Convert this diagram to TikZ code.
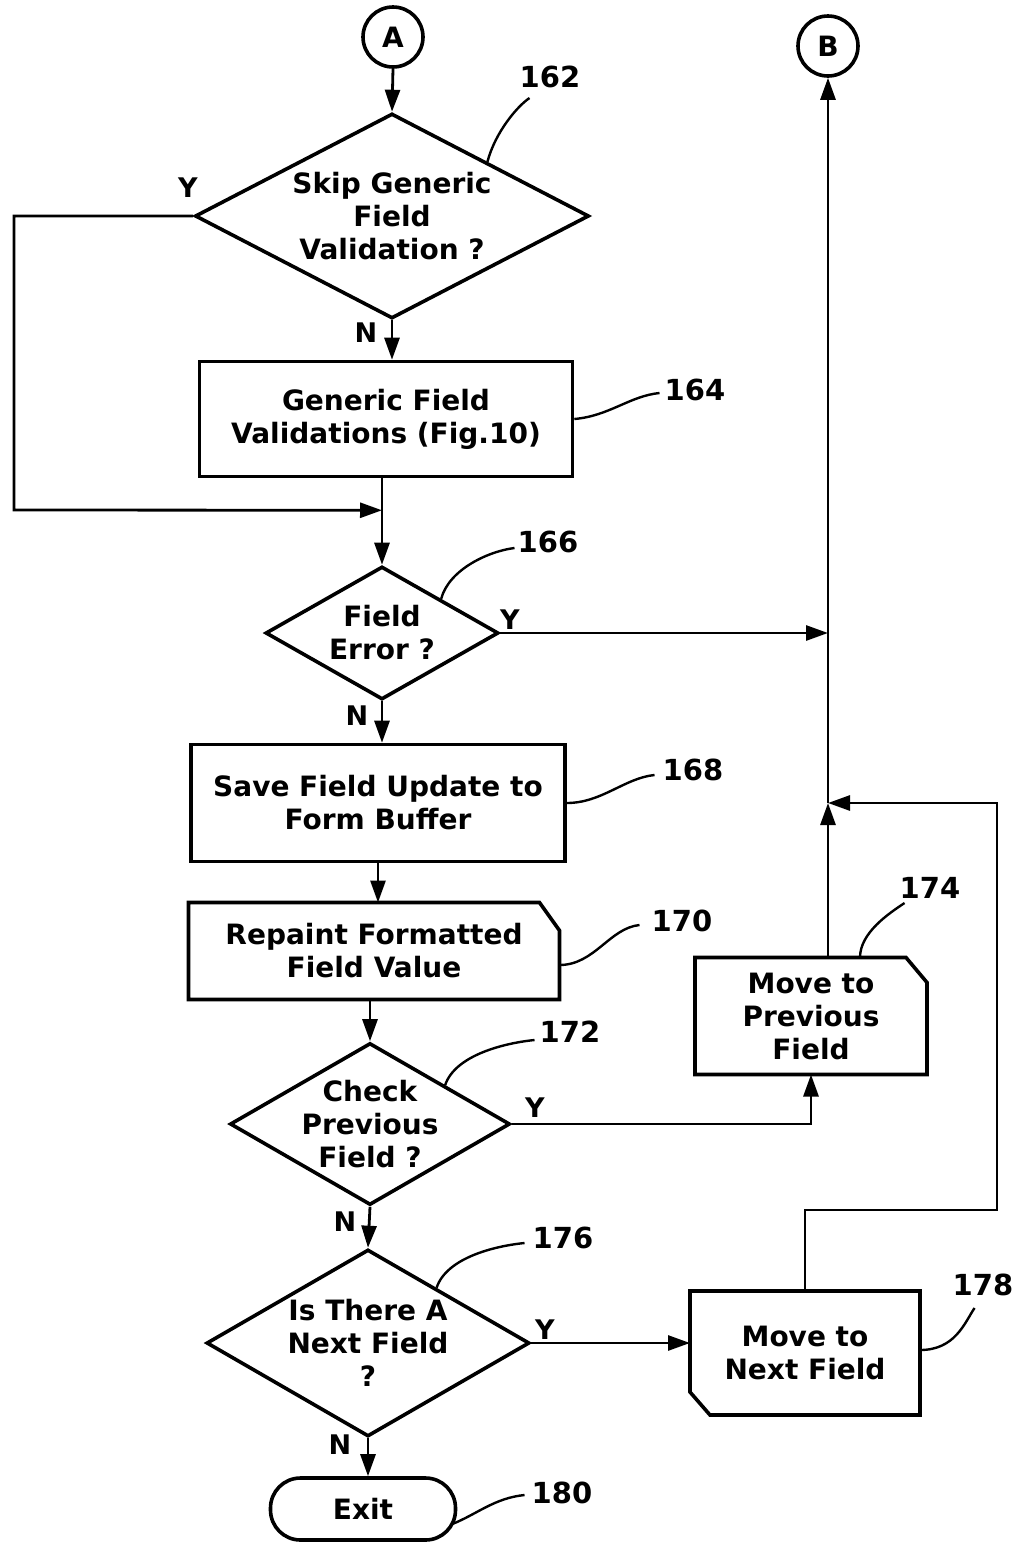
\documentclass[tikz,border=0pt]{standalone}
\usepackage{fontspec}
\setmainfont{DejaVu Sans}
\usetikzlibrary{shapes.geometric,arrows.meta,calc}
\begin{document}
\begin{tikzpicture}[x=1pt,y=-1pt,
  every node/.style={font=\fontsize{28}{33}\selectfont\bfseries},
  dia/.style={diamond, draw, line width=3.6pt, inner sep=-8pt, align=center},
  box/.style={rectangle, draw, line width=3.6pt, align=center, inner sep=0pt},
  plain/.style={rectangle, inner sep=0pt, outer sep=0pt, align=center},
  circ/.style={circle, draw, line width=3.6pt, minimum size=60pt, inner sep=0pt},
  outl/.style={line width=3.6pt, line join=miter},
  arr/.style={line width=2.8pt, -{Triangle[length=22pt,width=15pt]}},
  ln/.style={line width=2.8pt},
  lead/.style={line width=2.4pt},
  lbl/.style={font=\fontsize{29}{33}\selectfont\bfseries, inner sep=0pt},
  yn/.style={font=\fontsize{27}{30}\selectfont\bfseries, inner sep=0pt},
]
\useasboundingbox[fill=white] (0,0) rectangle (1013,1543);

% nodes
\node[circ] (A) at (393,37) {A};
\node[circ] (B) at (828,46) {B};
\node[dia, minimum width=394pt, minimum height=205pt, aspect=1.92] (d162) at (392,216) {Skip Generic\\Field\\Validation ?};
\node[box, minimum width=373pt, minimum height=115pt] (b164) at (386,419) {Generic Field\\Validations (Fig.10)};
\node[dia, minimum width=233pt, minimum height=133pt, aspect=1.75] (d166) at (382,633) {Field\\Error ?};
\node[box, minimum width=374pt, minimum height=117pt] (b168) at (378,803) {Save Field Update to\\Form Buffer};
\node[plain, minimum width=371pt, minimum height=97pt] (b170) at (374,951) {Repaint Formatted\\Field Value};
\node[dia, minimum width=280pt, minimum height=162pt, aspect=1.73] (d172) at (370,1124) {Check\\Previous\\Field ?};
\node[plain, minimum width=232pt, minimum height=117pt] (b174) at (811,1016) {Move to\\Previous\\Field};
\node[dia, minimum width=323pt, minimum height=187pt, aspect=1.73] (d176) at (368,1343) {Is There A\\Next Field\\?};
\node[plain, minimum width=230pt, minimum height=124pt] (b178) at (805,1353) {Move to\\Next Field};
\node[draw, line width=3.6pt, rounded corners=30pt, minimum width=185pt, minimum height=62pt, inner sep=0pt] (exit) at (363,1509) {Exit};

% cut-corner outlines
\draw[outl] (b170.north west) -- ($(b170.north east)+(-20,0)$) -- ($(b170.north east)+(0,28)$) -- (b170.south east) -- (b170.south west) -- cycle;
\draw[outl] (b174.north west) -- ($(b174.north east)+(-21,0)$) -- ($(b174.north east)+(0,25)$) -- (b174.south east) -- (b174.south west) -- cycle;
\draw[outl] (b178.north west) -- (b178.north east) -- (b178.south east) -- ($(b178.south west)+(20,0)$) -- ($(b178.south west)+(0,-23)$) -- cycle;

% labels
\node[lbl] (n162) at (550,77) {162};
\node[lbl] (n164) at (695,390) {164};
\node[lbl] (n166) at (548,542) {166};
\node[lbl] (n168) at (693,770) {168};
\node[lbl] (n170) at (682,921) {170};
\node[lbl] (n172) at (570,1032) {172};
\node[lbl] (n174) at (930,888) {174};
\node[lbl] (n176) at (563,1238) {176};
\node[lbl] (n178) at (983,1285) {178};
\node[lbl] (n180) at (562,1493) {180};

\node[yn] (y162) at (188,188) {Y};
\node[yn] (n162n) at (366,333) {N};
\node[yn] (y166) at (510,620) {Y};
\node[yn] (n166n) at (357,716) {N};
\node[yn] (y172) at (535,1108) {Y};
\node[yn] (n172n) at (345,1222) {N};
\node[yn] (y176) at (545,1330) {Y};
\node[yn] (n176n) at (340,1445) {N};

% coordinates
\coordinate (j1) at ($(d166.north |- b164.south)!0.37!(d166.north)$);
\coordinate (lft) at (14,510);
\coordinate (j3) at (B.south |- 0,803);
\coordinate (rt) at (997,1210);

% main connectors
\draw[arr] (A.south) -- (d162.north);
\draw[arr] (d162.south) -- (d162.south |- b164.north);
\draw[ln] (d166.north |- b164.south) -- (j1);
\draw[arr] (j1) -- (d166.north);
\draw[arr] (d166.south) -- (d166.south |- b168.north);
\draw[arr] (b168.south) -- (b168.south |- b170.north);
\draw[arr] (d172.north |- b170.south) -- (d172.north);
\draw[arr] (d172.south) -- (d176.north);
\draw[arr] (d176.south) -- (d176.south |- exit.north);

% branches
\draw[arr] (d162.west) -| (lft) -- (j1);
\draw[arr] (d166.east) -- (d166.east -| B.south);
\draw[arr] (d172.east) -| (b174.south);
\draw[arr] (d176.east) -- (d176.east -| b178.west);
\draw[arr] (b174.north -| B.south) -- (j3);
\draw[arr] (b178.north) |- (rt) -- (rt |- j3) -- (j3);
\draw[arr] (j3) -- (B.south);

% leaders
\draw[lead] ($(d162.north)!0.48!(d162.east)$) .. controls +(8,-30) and +(-12,8) .. ($(n162.west)+(10,21)$);
\draw[lead] (b164.east) .. controls +(35,-3) and +(-30,3) .. ($(n164.west)+(-5,3)$);
\draw[lead] ($(d166.north)!0.5!(d166.east)$) .. controls +(8,-30) and +(-25,3) .. ($(n166.west)+(-3,6)$);
\draw[lead] (b168.east) .. controls +(35,0) and +(-30,3) .. ($(n168.west)+(-8,5)$);
\draw[lead] ($(b170.east)+(0,14)$) .. controls +(35,0) and +(-30,3) .. ($(n170.west)+(-12,4)$);
\draw[lead] ($(d172.north)!0.53!(d172.east)$) .. controls +(10,-30) and +(-30,3) .. ($(n172.west)+(-5,8)$);
\draw[lead] ($(b174.north)+(49,0)$) .. controls +(0,-25) and +(-15,10) .. ($(n174.west)+(5,15)$);
\draw[lead] ($(d176.north)!0.42!(d176.east)$) .. controls +(10,-30) and +(-30,3) .. ($(n176.west)+(-8,5)$);
\draw[lead] ($(b178.east)+(0,-3)$) .. controls +(35,0) and +(-10,15) .. ($(n178.west)+(22,23)$);
\draw[lead] ($(exit.east)+(-5,15)$) .. controls +(25,-10) and +(-30,3) .. ($(n180.west)+(-7,2)$);
\end{tikzpicture}
\end{document}
